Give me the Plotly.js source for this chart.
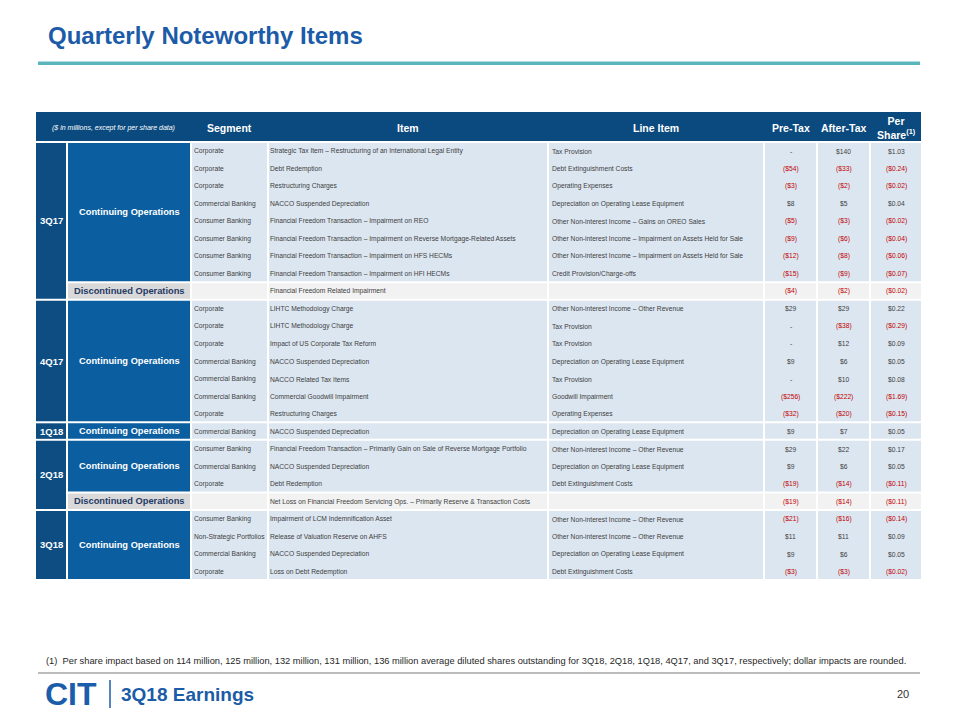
<!DOCTYPE html>
<html><head><meta charset="utf-8">
<script src="https://cdn.plot.ly/plotly-3.0.1.min.js"></script>
<style>html,body{margin:0;padding:0;background:#fff}</style>
</head><body><div id="chart" style="width:960px;height:720px"></div>
<script>
// ---------------- DATA ----------------
const quarter = ['3Q17','3Q17','3Q17','3Q17','3Q17','3Q17','3Q17','3Q17','3Q17',
  '4Q17','4Q17','4Q17','4Q17','4Q17','4Q17','4Q17',
  '1Q18',
  '2Q18','2Q18','2Q18','2Q18',
  '3Q18','3Q18','3Q18','3Q18'];
const operation = ['Continuing Operations','Continuing Operations','Continuing Operations','Continuing Operations','Continuing Operations','Continuing Operations','Continuing Operations','Continuing Operations','Discontinued Operations',
  'Continuing Operations','Continuing Operations','Continuing Operations','Continuing Operations','Continuing Operations','Continuing Operations','Continuing Operations',
  'Continuing Operations',
  'Continuing Operations','Continuing Operations','Continuing Operations','Discontinued Operations',
  'Continuing Operations','Continuing Operations','Continuing Operations','Continuing Operations'];
const segment = ['Corporate','Corporate','Corporate','Commercial Banking','Consumer Banking','Consumer Banking','Consumer Banking','Consumer Banking','',
  'Corporate','Corporate','Corporate','Commercial Banking','Commercial Banking','Commercial Banking','Corporate',
  'Commercial Banking',
  'Consumer Banking','Commercial Banking','Corporate','',
  'Consumer Banking','Non-Strategic Portfolios','Commercial Banking','Corporate'];
const item = ['Strategic Tax Item \u2013 Restructuring of an International Legal Entity','Debt Redemption','Restructuring Charges','NACCO Suspended Depreciation',
  'Financial Freedom Transaction \u2013 Impairment on REO','Financial Freedom Transaction \u2013 Impairment on Reverse Mortgage-Related Assets',
  'Financial Freedom Transaction \u2013 Impairment on HFS HECMs','Financial Freedom Transaction \u2013 Impairment on HFI HECMs','Financial Freedom Related Impairment',
  'LIHTC Methodology Charge','LIHTC Methodology Charge','Impact of US Corporate Tax Reform','NACCO Suspended Depreciation','NACCO Related Tax Items','Commercial Goodwill Impairment','Restructuring Charges',
  'NACCO Suspended Depreciation',
  'Financial Freedom Transaction \u2013 Primarily Gain on Sale of Reverse Mortgage Portfolio','NACCO Suspended Depreciation','Debt Redemption','Net Loss on Financial Freedom Servicing Ops. \u2013 Primarily Reserve & Transaction Costs',
  'Impairment of LCM Indemnification Asset','Release of Valuation Reserve on AHFS','NACCO Suspended Depreciation','Loss on Debt Redemption'];
const lineItem = ['Tax Provision','Debt Extinguishment Costs','Operating Expenses','Depreciation on Operating Lease Equipment',
  'Other Non-interest Income \u2013 Gains on OREO Sales','Other Non-interest Income \u2013 Impairment on Assets Held for Sale',
  'Other Non-interest Income \u2013 Impairment on Assets Held for Sale','Credit Provision/Charge-offs','',
  'Other Non-interest Income \u2013 Other Revenue','Tax Provision','Tax Provision','Depreciation on Operating Lease Equipment','Tax Provision','Goodwill Impairment','Operating Expenses',
  'Depreciation on Operating Lease Equipment',
  'Other Non-interest Income \u2013 Other Revenue','Depreciation on Operating Lease Equipment','Debt Extinguishment Costs','',
  'Other Non-interest Income \u2013 Other Revenue','Other Non-interest Income \u2013 Other Revenue','Depreciation on Operating Lease Equipment','Debt Extinguishment Costs'];
const preTax   = [null,-54,-3,8,-5,-9,-12,-15,-4,  29,null,null,9,null,-256,-32,  9,  29,9,-19,-19,  -21,11,9,-3];
const afterTax = [140,-33,-2,5,-3,-6,-8,-9,-2,     29,-38,12,6,10,-222,-20,     7,  22,6,-14,-14,  -16,11,6,-3];
const perShare = [1.03,-0.24,-0.02,0.04,-0.02,-0.04,-0.06,-0.07,-0.02,
  0.22,-0.29,0.09,0.05,0.08,-1.69,-0.15,  0.05,  0.17,0.05,-0.11,-0.11,  -0.14,0.09,0.05,-0.02];
const headers = ['<i>($ in millions, except for per share data)</i>','Segment','Item','Line Item','Pre-Tax','After-Tax','Per<br>Share<sup>(1)</sup>'];
const titleText = 'Quarterly Noteworthy Items';
const footnote = '(1)  Per share impact based on 114 million, 125 million, 132 million, 131 million, 136 million average diluted shares outstanding for 3Q18, 2Q18, 1Q18, 4Q17, and 3Q17, respectively; dollar impacts are rounded.';
const footerLabel = '3Q18 Earnings';
const pageNumber = '20';

// ---------------- GEOMETRY / STYLE ----------------
const FONT = 'Arial, "Liberation Sans", sans-serif';
const colX = [35, 67, 191, 268, 548, 764, 817, 870, 922];
const headTop = 111, bodyTop = 142, rowH = 17.52;
const C = {header:'#0B4A7E', quarter:'#0E4D82', cont:'#0B5E9F', contCell:'#DCE6F1',
  discLabel:'#D9D9D9', discCell:'#F2F2F2', text:'#404040', neg:'#C00000', disc:'#1F3864',
  title:'#1B5BA7', teal:'#5AB6BD'};

const shapes = [], ann = [];
function rect(x0, x1, y0, y1, color) {
  shapes.push({type:'rect', xref:'x', yref:'y', x0:x0+1, x1:x1-1, y0:y0+1, y1:y1-1,
    fillcolor:color, line:{width:0}, layer:'below'});
}
function txt(s, x, y, opt) {
  opt = opt || {};
  ann.push({text:s, x:x, y:y, xref:'x', yref:'y', showarrow:false,
    xanchor:opt.anchor || 'center', yanchor:'middle',
    font:{family:FONT, size:opt.size || 6.7, color:opt.color || C.text, weight:opt.weight || 400}});
}
function money(v, dec) {
  if (v === null) return {s:'-', neg:false};
  const a = '$' + Math.abs(v).toFixed(dec);
  return v < 0 ? {s:'(' + a + ')', neg:true} : {s:a, neg:false};
}
const rowY = i => bodyTop + i * rowH;

// header
rect(colX[0], colX[8], headTop, bodyTop, C.header);
const hCenters = [(colX[0]+colX[2])/2, (colX[2]+colX[3])/2, (colX[3]+colX[4])/2, (colX[4]+colX[5])/2,
  (colX[5]+colX[6])/2, (colX[6]+colX[7])/2, (colX[7]+colX[8])/2];
headers.forEach((h, k) => {
  txt(h, hCenters[k], (headTop + bodyTop) / 2 + 1,
    {size: k === 0 ? 7 : 10.5, color:'#FFFFFF', weight: k === 0 ? 400 : 700});
});

// runs
function runs(keyFn) {
  const out = []; let start = 0;
  for (let i = 1; i <= quarter.length; i++) {
    if (i === quarter.length || keyFn(i) !== keyFn(start)) { out.push([start, i]); start = i; }
  }
  return out;
}
runs(i => quarter[i]).forEach(([a, b]) => {
  rect(colX[0], colX[1], rowY(a), rowY(b), C.quarter);
  txt(quarter[a], (colX[0]+colX[1])/2, (rowY(a)+rowY(b))/2, {size:9.5, color:'#FFFFFF', weight:700});
});
runs(i => quarter[i] + '|' + operation[i]).forEach(([a, b]) => {
  const disc = operation[a].indexOf('Discontinued') === 0;
  rect(colX[1], colX[2], rowY(a), rowY(b), disc ? C.discLabel : C.cont);
  txt(operation[a], (colX[1]+colX[2])/2, (rowY(a)+rowY(b))/2,
    {size:9.3, color: disc ? C.disc : '#FFFFFF', weight:700});
  for (let c = 2; c < 8; c++) rect(colX[c], colX[c+1], rowY(a), rowY(b), disc ? C.discCell : C.contCell);
});

// cell texts
for (let i = 0; i < quarter.length; i++) {
  const y = rowY(i) + rowH / 2 + 0.5;
  if (segment[i]) txt(segment[i], colX[2] + 1, y, {anchor:'left'});
  if (item[i]) txt(item[i], colX[3] + 0, y, {anchor:'left'});
  if (lineItem[i]) txt(lineItem[i], colX[4] + 2, y, {anchor:'left'});
  [[preTax[i], 0, 5], [afterTax[i], 0, 6], [perShare[i], 2, 7]].forEach(([v, d, c]) => {
    const m = money(v, d);
    txt(m.s, (colX[c] + colX[c+1]) / 2, y, {color: m.neg ? C.neg : C.text});
  });
}

// decorations
shapes.push({type:'rect', xref:'x', yref:'y', x0:38, x1:920, y0:61.5, y1:65, fillcolor:C.teal, line:{width:0}});
shapes.push({type:'line', xref:'x', yref:'y', x0:38, x1:920, y0:673, y1:673, line:{color:'#A6A6A6', width:1.5}});
shapes.push({type:'line', xref:'x', yref:'y', x0:110, x1:110, y0:680, y1:708, line:{color:'#1B5BA7', width:1.5}});
txt(footnote, 44, 661, {anchor:'left', size:9.3, color:'#262626'});
txt('CIT', 43, 694, {anchor:'left', size:32, color:'#1A5DAA', weight:900});
txt(footerLabel, 119, 694, {anchor:'left', size:19, color:C.title, weight:700});
txt(pageNumber, 911, 694, {anchor:'right', size:11, color:'#333333'});

const layout = {
  width:960, height:720, margin:{l:0, r:0, t:0, b:0},
  paper_bgcolor:'#FFFFFF', plot_bgcolor:'#FFFFFF', showlegend:false,
  title:{text:titleText, x:48/960, xanchor:'left', xref:'paper', y:1 - 36/720, yanchor:'middle',
    font:{family:FONT, size:24, color:C.title, weight:700}},
  xaxis:{range:[0, 960], visible:false, fixedrange:true},
  yaxis:{range:[720, 0], visible:false, fixedrange:true},
  shapes:shapes, annotations:ann
};
Plotly.newPlot('chart', [{type:'scatter', x:[], y:[], hoverinfo:'skip'}], layout, {staticPlot:true});
</script></body></html>
